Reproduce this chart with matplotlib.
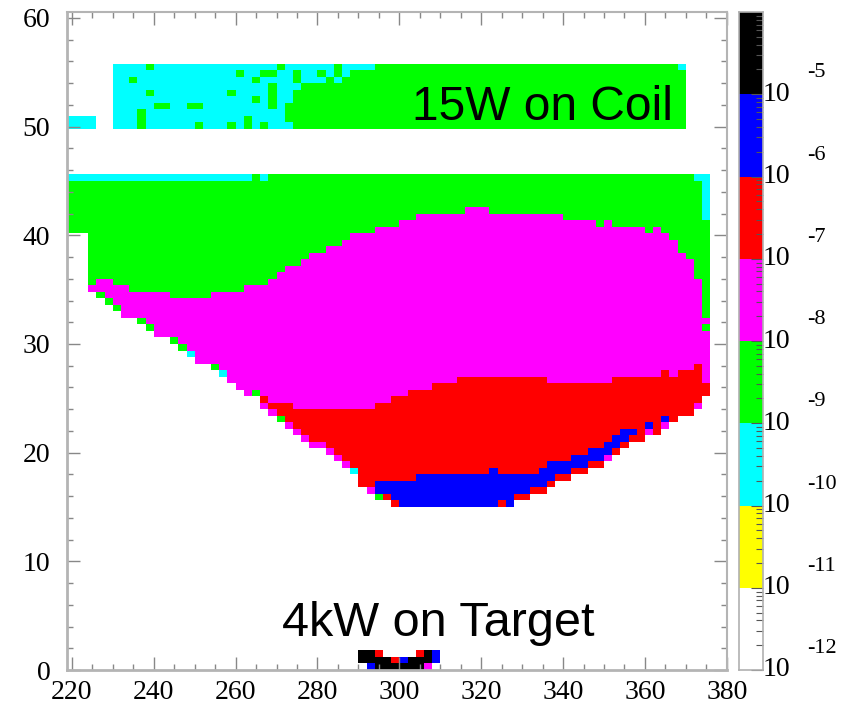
import numpy as np
import matplotlib.pyplot as plt
from matplotlib.colors import ListedColormap, BoundaryNorm
from matplotlib.ticker import MultipleLocator, FixedLocator, NullFormatter
import matplotlib.transforms as mtransforms

# colour levels (log10 of the power density), one colour per decade
level_edges = [-12, -11, -10, -9, -8, -7, -6, -5, -4]
level_colors = ['#ffffff', '#ffff00', '#00ffff', '#00ff00',
                '#ff00ff', '#ff0000', '#0000ff', '#000000']
code_level = {'c': -9.5, 'g': -8.5, 'm': -7.5, 'r': -6.5, 'b': -5.5, 'k': -4.5}

# binning of the histogram
x_bin = 2.0
y_bin = 0.6
n_rows = 101
col_x = list(range(218, 376, 2))  # left edge of each x bin, 218 .. 374

# main body, one entry per x bin (row index = y / 0.6)
bottom_row = [67, 67, 67, 58, 57, 56, 55, 54, 54, 53, 52, 51, 51, 50, 49, 48, 47, 47, 46, 45,
              44, 43, 42, 42, 40, 39, 38, 37, 36, 35, 34, 34, 33, 32, 31, 30, 28, 27, 26, 26,
              25, 25, 25, 25, 25, 25, 25, 25, 25, 25, 25, 25, 25,
              25, 25, 26, 26, 27, 27, 28, 29, 29, 30, 30, 31, 31, 32, 33, 34, 35, 35, 36, 36,
              37, 38, 39, 39, 40, 42]
edge_code = "gggmgggmmggmmggcmmgcmmmgmmgmmmmmmmmcrmgrr" + "bbbbbbbbbbbb" + "rbrrrrrrrrrrrmrrrrmrmrrrmr"
blue_top = [0] * 38 + [29, 29, 29, 29, 29, 30, 30, 30, 30, 30, 30, 30, 30, 30, 31,
                       30, 30, 30, 30, 30, 31, 32, 32, 32, 33, 33, 34, 34, 35, 36, 37, 37, 0, 38, 0, 39,
                       0, 0, 0, 0, 0]
red_top = [0] * 24 + [42, 41, 41, 41, 40, 40, 40, 40, 40, 40, 40, 40, 40, 40, 41, 41, 42, 42,
                      43, 43, 43, 44, 44, 44, 45, 45, 45, 45, 45, 45, 45, 45, 45, 45, 45,
                      44, 44, 44, 44, 44, 44, 44, 44, 45, 45, 45, 45, 45, 45, 46, 45, 46, 46, 47, 44]
mag_top = [0, 0, 0, 59, 60, 60, 59, 59, 58, 58, 58, 58, 58, 57, 57, 57, 57, 57, 58, 58,
           58, 58, 59, 59, 59, 60, 61, 62, 62, 63, 64, 64, 65, 65, 66, 67, 67, 67, 68, 68,
           68, 69, 69, 70, 70, 70, 70, 70, 70, 71, 71, 71, 70, 70, 70, 70, 70, 70, 70, 70,
           70, 69, 69, 69, 69, 68, 69, 68, 68, 68, 68, 67, 68, 67, 66, 64, 63, 60, 54]
top_row_code = "c" * 23 + "g" + "c" + "g" * 52 + "cc"
extra_cells = [(374, 69, 'c'), (374, 70, 'c'), (374, 71, 'c'), (374, 72, 'c'),
               (374, 73, 'c'), (374, 74, 'c'), (374, 52, 'g')]

# coil band: rows 92 (top) .. 83 (bottom), x bins 230 .. 368
coil_x0 = 230
coil_rows = [
    "ccccg" + "ccccccccccccccc" + "g" + "cccccc" + "g" + "cccc" + "g" * 37 + "c",
    "ccccccccccccccc" + "g" + "cc" + "gg" + "cc" + "g" + "cc" + "g" + "c" + "g" + "c" + "g" * 41,
    "cc" + "g" + "cccccccccccccc" + "g" + "cccc" + "g" + "ccc" + "g" + "c" + "g" * 42,
    "ccccccccccccccccccc" + "g" + "ccc" + "g" * 47,
    "cccc" + "g" + "ccccccccc" + "g" + "cccc" + "g" + "cc" + "g" * 48,
    "ccccccccccccccccc" + "g" + "c" + "g" + "cc" + "g" * 48,
    "ccccc" + "gg" + "cc" + "gg" + "cccccccc" + "g" + "c" + "g" * 49,
    "ccc" + "g" + "ccccccccccccccccc" + "g" * 49,
    "ccc" + "g" + "cccccccccccc" + "g" + "cccc" + "g" * 49,
    "ccc" + "g" + "cccccc" + "g" + "ccc" + "g" + "c" + "g" + "c" + "g" + "ccc" + "g" * 48,
]
left_block = [(218, 83), (218, 84), (220, 83), (220, 84), (222, 83), (222, 84), (224, 83), (224, 84)]

# target region: rows 2 (top) .. 0, x bins 290 .. 308
target_x0 = 290
target_rows = ["kkr....rkb",
               "kkkkrbkkkb",
               ".bkkkkkkm."]

# ---- build the cell grid ----
grid = np.full((n_rows, len(col_x)), np.nan)
for c, x in enumerate(col_x):
    b = bottom_row[c]
    grid[b, c] = code_level[edge_code[c]]
    start = b + 1
    if blue_top[c]:
        lo = b if edge_code[c] == 'b' else b + 1
        grid[lo:blue_top[c], c] = code_level['b']
        start = max(start, blue_top[c])
    if red_top[c]:
        grid[start:red_top[c], c] = code_level['r']
        start = max(start, red_top[c])
    if mag_top[c]:
        grid[start:mag_top[c], c] = code_level['m']
        start = max(start, mag_top[c])
    grid[start:75, c] = code_level['g']
    grid[75, c] = code_level[top_row_code[c]]

for x, r, code in extra_cells:
    grid[r, col_x.index(x)] = code_level[code]

for k, s in enumerate(coil_rows):
    r = 92 - k
    for j, ch in enumerate(s[:70]):
        grid[r, col_x.index(coil_x0 + 2 * j)] = code_level[ch]
for x, r in left_block:
    grid[r, col_x.index(x)] = code_level['c']

for k, s in enumerate(target_rows):
    r = 2 - k
    for j, ch in enumerate(s):
        if ch != '.':
            grid[r, col_x.index(target_x0 + 2 * j)] = code_level[ch]

x_edges = np.array(col_x + [col_x[-1] + x_bin], dtype=float)
y_edges = np.arange(n_rows + 1) * y_bin

cmap = ListedColormap(level_colors)
norm = BoundaryNorm(level_edges, cmap.N)

# ---- figure ----
fig = plt.figure(figsize=(8.54, 7.05), dpi=100)
ax = fig.add_axes([67 / 854, 35 / 705, 660 / 854, 658 / 705])
ax.pcolormesh(x_edges, y_edges, np.ma.masked_invalid(grid), cmap=cmap, norm=norm)
ax.set_xlim(218.8, 380.05)
ax.set_ylim(0, 60.55)

serif = 'Liberation Serif'
ax.xaxis.set_major_locator(MultipleLocator(20))
ax.xaxis.set_minor_locator(MultipleLocator(5))
ax.yaxis.set_major_locator(MultipleLocator(10))
ax.yaxis.set_minor_locator(MultipleLocator(2))
ax.tick_params(which='both', direction='in', top=True, right=True, color='#888888', width=1)
ax.tick_params(which='major', length=9.5)
ax.tick_params(which='minor', length=4.5)
ax.tick_params(axis='x', pad=7)
ax.tick_params(axis='y', pad=12)
for lab in ax.get_xticklabels() + ax.get_yticklabels():
    lab.set_fontfamily(serif)
    lab.set_fontsize(20)
for name, sp in ax.spines.items():
    sp.set_color('#b4b4b4')
    sp.set_linewidth(2.0 if name in ('left', 'bottom') else 1.5)

ax.text(303.2, 50.6, '15W on Coil', fontsize=34.5, family='Liberation Sans',
        ha='left', va='baseline')
ax.text(271.3, 3.1, '4kW on Target', fontsize=35, family='Liberation Sans',
        ha='left', va='baseline')

# ---- colour scale ----
cax = fig.add_axes([739 / 854, 35 / 705, 24 / 854, 658 / 705])
cvals = np.array([[(level_edges[i] + level_edges[i + 1]) / 2] for i in range(len(level_colors))])
cax.pcolormesh([0, 1], level_edges, cvals, cmap=cmap, norm=norm)
cax.set_xlim(0, 1)
cax.set_ylim(level_edges[0], level_edges[-1])
cax.set_xticks([])
cax.yaxis.tick_right()
cax.yaxis.set_major_locator(FixedLocator(level_edges[:-1]))
minor = [d + np.log10(m) for d in level_edges[:-1] for m in range(2, 10)]
cax.yaxis.set_minor_locator(FixedLocator(minor))
cax.yaxis.set_major_formatter(NullFormatter())
cax.tick_params(which='both', direction='in', color='#555555', width=0.8)
cax.tick_params(which='major', length=9)
cax.tick_params(which='minor', length=5)
for sp in cax.spines.values():
    sp.set_color('#b0b0b0')
    sp.set_linewidth(1.2)

trans = mtransforms.blended_transform_factory(cax.transAxes, cax.transData)
for e in level_edges[:-1]:
    cax.text(1.0, e, '10', transform=trans, fontsize=20, family=serif,
             ha='left', va='center')
    cax.text(2.85, e + 0.26, str(e), transform=trans, fontsize=16, family=serif,
             ha='left', va='center')

fig.savefig('out.png', dpi=100)
